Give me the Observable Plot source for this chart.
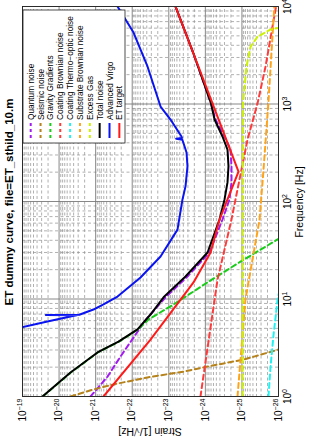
<!DOCTYPE html>
<html><head><meta charset="utf-8">
<script src="https://cdn.jsdelivr.net/npm/d3@7"></script>
<script src="https://cdn.jsdelivr.net/npm/@observablehq/plot@0.6"></script>
<style>
html,body{margin:0;padding:0;background:#fff;overflow:hidden;width:313px;height:443px;}
#rot{position:absolute;left:0;top:0;width:443px;height:313px;transform-origin:0 0;transform:translate(0px,443px) rotate(-90deg);background:#fff;}
</style></head><body><div id="rot"></div>
<script>
// ---- ticks ----
const freqTicks = [1, 10, 100, 1000, 10000];
const strainTicks = [1e-26, 1e-25, 1e-24, 1e-23, 1e-22, 1e-21, 1e-20, 1e-19];

// ---- text ----
const titleText = "ET dummy curve, file=ET_sthild_10.m";
const xLabel = "Frequency [Hz]";
const yLabel = "Strain [1/\u221AHz]";
const seriesNames = ["Quantum noise","Seismic noise","Gravity Gradients","Coating Brownian noise",
  "Coating Thermo\u2212optic noise","Substrate Brownian noise","Excess Gas","Total noise","Advanced Virgo","ET target"];
const seriesColors = ["#a21cf2","#b5821c","#19cc19","#ff3b3b","#1ff2f2","#ffa41a","#cdf200","#000000","#0a14f0","#ff1a1a"];
const seriesDashed = [true,true,true,true,true,true,true,false,false,false];

// ---- data: [frequency Hz, strain 1/sqrt(Hz)] ----
const quantum = [[1,1.38e-21],[1.6,4.74e-22],[2.57,2.09e-22],[4.03,9.2e-23],[6.16,4.2e-23],[10.4,1.23e-23],
  [17,3.08e-24],[30,7.7e-25],[65.3,3.4e-25],[105,2.19e-25],[157,1.93e-25],[229,1.93e-25],[341,2.05e-25],
  [464,2.99e-25],[693,5.28e-25],[1012,7.0e-25],[3221,2.07e-24],[10000,6.55e-24]];
const seismic = [[1,4.87e-21],[1.18,1.15e-21],[1.33,3.25e-22],[1.57,3.82e-23],[1.8,3.96e-24],[2.03,8.7e-25],
  [2.39,9.06e-26],[3.03,1e-26],[3.3,5e-27]];
const gravity = [[1,2.8e-20],[1.76,4.8e-21],[2.83,8.7e-22],[3.66,2.3e-22],[4.87,6.9e-23],[6.16,3.59e-23],
  [8.79,7.43e-24],[14.8,8.73e-25],[24.2,1.09e-25],[40.8,1.06e-26],[50,4.5e-27]];
const coatingBrownian = [[1,1.36e-24],[15.8,4.65e-25],[65.3,1.93e-25],[433,7.03e-26],[1012,3.75e-26],
  [2427,2.26e-26],[9310,1.21e-26],[10000,1.15e-26]];
const thermoOptic = [[1,1.88e-26],[1.97,1.66e-26],[4.27,1.37e-26],[9.8,1.06e-26],[12,9.5e-27]];
const substrate = [[1,1.32e-25],[10,8e-26],[65,3.3e-26],[200,2.6e-26],[1000,1.9e-26],[10000,1.3e-26]];
const excessGas = [[1,9.6e-26],[100,9.6e-26],[1000,9.4e-26],[2420,7.5e-26],[3870,5.8e-26],[4900,3.75e-26],
  [5800,1.66e-26],[6100,9e-27]];
const totalNoise = [[1,2.84e-20],[1.76,4.87e-21],[2.83,8.9e-22],[3.66,2.37e-22],[4.87,7.16e-23],[6.93,3.16e-23],
  [10.4,1.39e-23],[17,3.49e-24],[30,8.7e-25],[65.3,4.1e-25],[105,2.99e-25],[157,2.48e-25],[229,2.33e-25],
  [341,2.48e-25],[464,3.4e-25],[693,5.6e-25],[1012,7.0e-25],[3221,2.07e-24],[10000,6.55e-24]];
const advVirgo = [[5.1,1.1e-19],[5.88,2.08e-20],[6.62,4.9e-21],[6.8,3.3e-21],[6.86,2.3e-20],[6.9,2.8e-21],
  [7.8,1.15e-21],[8.79,6.1e-22],[10.6,2.52e-22],[16.6,5.93e-23],[27.3,1.68e-23],[51.5,5.78e-24],[105,4.22e-24],
  [143,3.49e-24],[229,3.08e-24],[318,3.27e-24],[430,4.25e-24],[440,6.3e-24],[448,4.35e-24],[464,4.49e-24],
  [693,8.97e-24],[942,1.68e-23],[2427,3.82e-23],[5410,9.2e-23],[10000,2.52e-22]];
const etTarget = [[1,6.1e-22],[3.84,3.16e-23],[14.8,2.11e-24],[30,7.2e-25],[65.3,4.1e-25],[105,2.48e-25],
  [203,1.24e-25],[10000,6.55e-24]];

const allSeries = [quantum, seismic, gravity, coatingBrownian, thermoOptic, substrate, excessGas, totalNoise, advVirgo, etTarget];

function minors(lo, hi) {
  const out = [];
  for (let e = lo; e < hi; e++) for (let k = 2; k <= 9; k++) out.push(+(k + "e" + e));
  return out;
}
const minorF = minors(0, 4);
const minorS = minors(-26, -19);
const fmt = d => "10^" + String(Math.round(Math.log10(d))).replace("-", "\u2212");

const W = 443, H = 313, mL = 46, mR = 7, mT = 22, mB = 35;

const lineMarks = allSeries.map((s, i) => Plot.line(s, {
  x: d => d[0], y: d => d[1], stroke: seriesColors[i], strokeWidth: 2,
  strokeDasharray: seriesDashed[i] ? "5,3.5" : null, clip: true, curve: "linear"
}));

const chart = Plot.plot({
  width: W, height: H, marginLeft: mL, marginRight: mR, marginTop: mT, marginBottom: mB,
  style: {fontFamily: "'Liberation Sans', Arial, Helvetica, sans-serif", fontSize: "10px", background: "white", color: "black"},
  x: {type: "log", domain: [1, 1e4]},
  y: {type: "log", domain: [1e-26, 1e-19]},
  marks: [
    Plot.ruleX(minorF, {stroke: "#8f8f8f", strokeWidth: 0.7, strokeDasharray: "3,2.5"}),
    Plot.ruleY(minorS, {stroke: "#8f8f8f", strokeWidth: 0.7, strokeDasharray: "3,2.5"}),
    Plot.ruleX(freqTicks, {stroke: "#7a7a7a", strokeWidth: 0.9}),
    Plot.ruleY(strainTicks, {stroke: "#7a7a7a", strokeWidth: 0.9}),
    ...lineMarks,
    Plot.frame({stroke: "#222", strokeWidth: 0.9}),
    Plot.axisX({ticks: freqTicks, tickFormat: fmt, tickSize: 0, tickPadding: 5, label: null, fontSize: 10}),
    Plot.axisY({ticks: strainTicks, tickFormat: fmt, tickSize: 0, tickPadding: 2, label: null, fontSize: 10})
  ]
});

// superscripts
d3.select(chart).selectAll("text").each(function() {
  const t = this.textContent;
  const m = /^10\^(.+)$/.exec(t);
  if (m) {
    const s = d3.select(this);
    s.text(null);
    s.append("tspan").text("10");
    s.append("tspan").attr("dy", "-0.5em").attr("font-size", "7px").text(m[1]);
  }
});

const svg = d3.select(chart);
const font = "'Liberation Sans', Arial, Helvetica, sans-serif";
const cx = (mL + (W - mR)) / 2, cy = (mT + (H - mB)) / 2;
svg.append("text").attr("x", cx).attr("y", 13).attr("text-anchor", "middle")
  .attr("font-family", font).attr("font-weight", "bold").attr("font-size", "11.5px").text(titleText);
svg.append("text").attr("x", cx).attr("y", 303).attr("text-anchor", "middle")
  .attr("font-family", font).attr("font-size", "10.5px").text(xLabel);
svg.append("text").attr("transform", `translate(15,${cy}) rotate(-90)`).attr("text-anchor", "middle")
  .attr("font-family", font).attr("font-size", "10.5px").text(yLabel);

// legend
const lg = svg.append("g");
const lx = 300, ly = 23, lw = 133, lh = 102;
lg.append("rect").attr("x", lx).attr("y", ly).attr("width", lw).attr("height", lh)
  .attr("fill", "white").attr("stroke", "#222").attr("stroke-width", 0.8);
seriesNames.forEach((name, i) => {
  const yy = 30.7 + i * 9.85;
  lg.append("line").attr("x1", lx + 5).attr("x2", lx + 20).attr("y1", yy).attr("y2", yy)
    .attr("stroke", seriesColors[i]).attr("stroke-width", 2)
    .attr("stroke-dasharray", seriesDashed[i] ? "3,3" : null);
  lg.append("text").attr("x", lx + 23).attr("y", yy + 3).attr("text-anchor", "start")
    .attr("font-family", font).attr("font-size", "8.3px").text(name);
});

document.getElementById("rot").appendChild(chart);
</script></body></html>
